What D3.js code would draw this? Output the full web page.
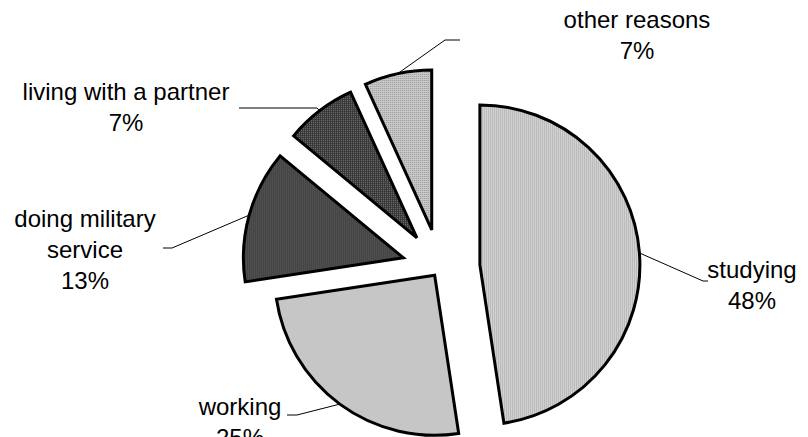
<!DOCTYPE html>
<html lang="en">
<head>
  <meta charset="UTF-8" />
  <title>Exploded pie</title>
  <script src="https://cdn.jsdelivr.net/npm/d3@7"></script>
  <style>
    body { margin: 0; background: #fff; }
    svg { display: block; }
    .lbl { font-family: "Liberation Sans", Arial, sans-serif; font-size: 24px; fill: #000; }
  </style>
</head>
<body>
  <svg id="chart" width="808" height="437"></svg>
  <script>
    // data
    var categories = ["studying", "working", "doing military service", "living with a partner", "other reasons"];
    var values = [47.6, 25.0, 13.4, 7.2, 6.8];
    var labelLines = [["studying"], ["working"], ["doing military", "service"], ["living with a partner"], ["other reasons"]];

    // layout
    var width = 808, height = 437;
    var cx = 440, cy = 268, radius = 160;
    var explode = [40, 9, 38, 38, 39];
    var patternIds = ["pStudy", "pWork", "pMil", "pPartner", "pOther"];
    var labelAt = [[752, 278], [240, 415], [85, 227], [126, 100], [637, 28]];
    var leaderBends = [
      [[703, 281], [708, 281]],
      [[297, 415], [287, 415]],
      [[172, 248], [163, 248]],
      [[317, 108], [239, 108]],
      [[445, 40], [460, 40]]
    ];
    var lineHeight = 31;

    var svg = d3.select("#chart");
    var defs = svg.append("defs");

    // small bitmap-like fill patterns
    function pattern(id, w, h, bg, cells, fg) {
      var p = defs.append("pattern").attr("id", id)
        .attr("patternUnits", "userSpaceOnUse").attr("width", w).attr("height", h);
      p.append("rect").attr("width", w).attr("height", h).attr("fill", bg);
      cells.forEach(function(c) {
        p.append("rect").attr("x", c[0]).attr("y", c[1]).attr("width", c[2]).attr("height", c[3]).attr("fill", fg);
      });
    }
    pattern("pStudy", 2, 2, "#d6d6d6", [[0, 0, 1, 2]], "#b6b6b6");
    pattern("pWork", 2, 2, "#d8d8d8", [[0, 0, 1, 1], [1, 1, 1, 1]], "#b4b4b4");
    pattern("pMil", 2, 2, "#5e5e5e", [[0, 0, 1, 2]], "#353535");
    pattern("pPartner", 2, 2, "#353535", [[0, 0, 1, 1]], "#7a7a7a");
    pattern("pOther", 2, 2, "#cdcdcd", [[0, 0, 1, 1]], "#8a8a8a");

    var pie = d3.pie().sort(null).value(function(d) { return d; });
    var arcs = pie(values);
    var arc = d3.arc().innerRadius(0).outerRadius(radius);

    var g = svg.append("g").attr("transform", "translate(" + cx + "," + cy + ")");

    arcs.forEach(function(a, i) {
      var mid = (a.startAngle + a.endAngle) / 2;
      var ox = Math.sin(mid) * explode[i], oy = -Math.cos(mid) * explode[i];
      g.append("path")
        .attr("transform", "translate(" + ox + "," + oy + ")")
        .attr("d", arc(a))
        .attr("fill", "url(#" + patternIds[i] + ")")
        .attr("stroke", "#000")
        .attr("stroke-width", 3)
        .attr("stroke-linejoin", "miter");

      // leader line from the middle of the outer arc
      var ax = cx + ox + Math.sin(mid) * radius;
      var ay = cy + oy - Math.cos(mid) * radius;
      var pts = [[ax, ay]].concat(leaderBends[i]);
      svg.append("path")
        .attr("d", d3.line()(pts))
        .attr("fill", "none")
        .attr("stroke", "#000")
        .attr("stroke-width", 1);

      // label text
      var lines = labelLines[i].concat([Math.round(values[i]) + "%"]);
      var t = svg.append("text").attr("class", "lbl").attr("text-anchor", "middle");
      lines.forEach(function(s, k) {
        t.append("tspan").attr("x", labelAt[i][0]).attr("y", labelAt[i][1] + k * lineHeight).text(s);
      });
    });
  </script>
</body>
</html>
